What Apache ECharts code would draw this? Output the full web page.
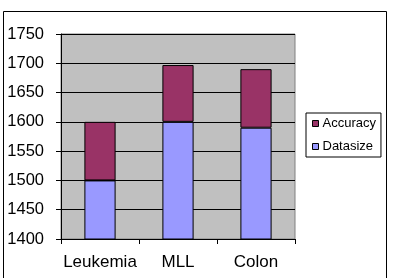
<!DOCTYPE html>
<html>
<head>
<meta charset="utf-8">
<script src="https://cdn.jsdelivr.net/npm/echarts@6/dist/echarts.min.js"></script>
<style>
  html, body { margin: 0; padding: 0; background: #fff; }
  #chart { width: 394px; height: 278px; }
</style>
</head>
<body>
<div id="chart"></div>
<script>
const categories = ['Leukemia', 'MLL', 'Colon'];
const datasize = [1500, 1600, 1590];
const accuracy = [100, 97, 100];

const chart = echarts.init(document.getElementById('chart'), null, { renderer: 'canvas' });

chart.setOption({
  animation: false,
  graphic: [{
    type: 'rect',
    shape: { x: 3.5, y: 11.5, width: 383, height: 280 },
    style: { fill: 'none', stroke: '#000', lineWidth: 1 },
    silent: true,
    z: 100
  }],
  grid: {
    left: 61, right: 99, top: 34, bottom: 39,
    show: true,
    backgroundColor: '#c0c0c0',
    borderColor: '#808080',
    borderWidth: 1
  },
  legend: {
    orient: 'vertical',
    left: 306, top: 113,
    data: ['Accuracy', 'Datasize'],
    icon: 'rect',
    itemWidth: 6, itemHeight: 6,
    itemGap: 10,
    padding: [4, 5, 4, 6],
    borderColor: '#000',
    borderWidth: 1,
    backgroundColor: '#fff',
    textStyle: { fontFamily: 'Liberation Sans, Arial', fontSize: 13, color: '#000', padding: [0, 0, 0, -1] },
    itemStyle: { borderColor: '#000', borderWidth: 1 }
  },
  xAxis: {
    type: 'category',
    data: categories,
    axisLine: { lineStyle: { color: '#000', width: 1 } },
    axisTick: { show: true, length: 5, lineStyle: { color: '#000' } },
    axisLabel: { interval: 0, fontFamily: 'Liberation Sans, Arial', fontSize: 17, color: '#000', margin: 15 }
  },
  yAxis: {
    type: 'value',
    min: 1400, max: 1750, interval: 50,
    axisLine: { show: true, lineStyle: { color: '#000', width: 1 } },
    axisTick: { show: true, length: 5, lineStyle: { color: '#000' } },
    splitLine: { lineStyle: { color: '#000', width: 1 } },
    axisLabel: {
      formatter: v => String(v),
      fontFamily: 'Liberation Sans, Arial', fontSize: 16.5, color: '#000', margin: 17
    }
  },
  series: [
    {
      name: 'Datasize',
      type: 'bar',
      stack: 'total',
      data: datasize,
      barWidth: '40%',
      itemStyle: { color: '#9999ff', borderColor: '#000', borderWidth: 1 }
    },
    {
      name: 'Accuracy',
      type: 'bar',
      stack: 'total',
      data: accuracy,
      barWidth: '40%',
      itemStyle: { color: '#993366', borderColor: '#000', borderWidth: 1 }
    }
  ]
});
</script>
</body>
</html>
